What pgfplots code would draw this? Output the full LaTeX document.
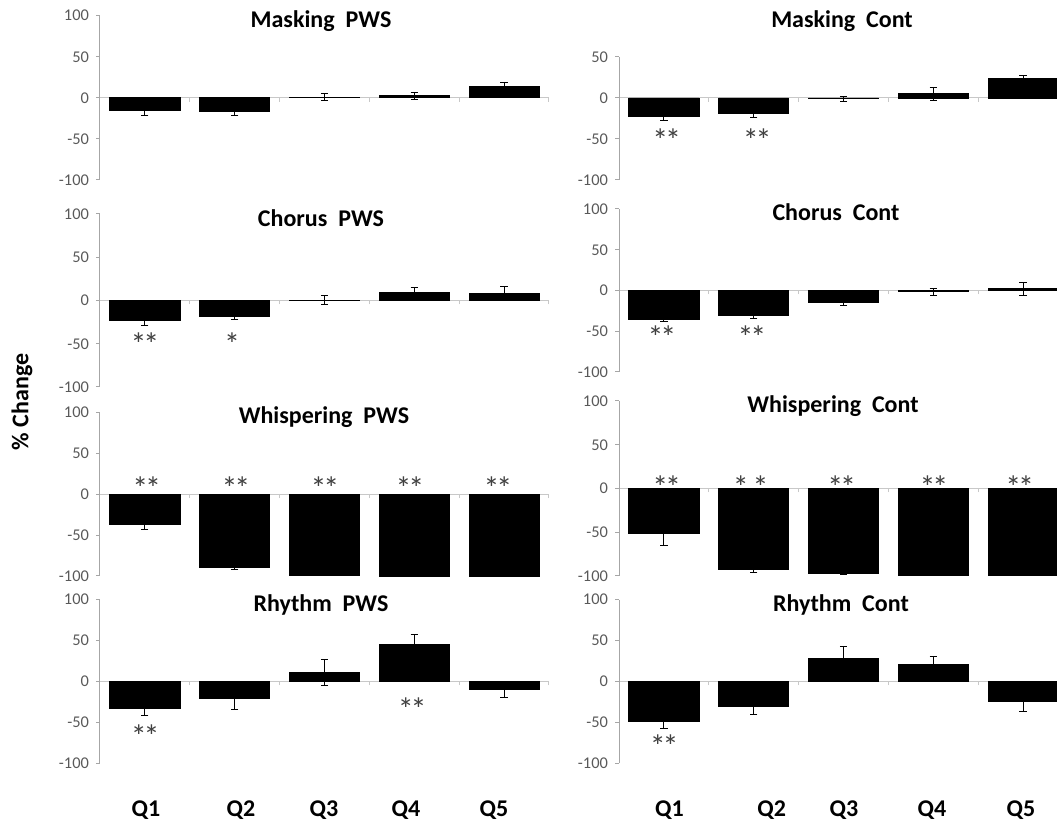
\documentclass[border=0pt]{standalone}
\usepackage{fontspec}
\setmainfont{Carlito}
\usepackage{pgfplots}
\pgfplotsset{compat=1.18}
\definecolor{axgray}{HTML}{A6A6A6}
\definecolor{xaxgray}{HTML}{C8C8C8}
\definecolor{lblgray}{HTML}{595959}
\definecolor{stargray}{HTML}{404040}

\pgfplotsset{
  panel/.style={
    scale only axis, width=224.5pt,
    xmin=-0.5, xmax=4.5, ymin=-100, ymax=100,
    axis x line*=middle, axis y line*=left,
    ytick={-100,-50,0,50,100},
    xtick={-0.5,0.5,...,4.5}, xticklabels={},
    axis line style={axgray, line width=0.5pt},
    x axis line style={xaxgray},
    tick style={axgray, line width=0.5pt},
    xtick style={xaxgray},
    major tick length=2pt, tick align=outside,
    yticklabel style={font=\fontsize{8.2}{9}\selectfont, text=lblgray},
    /pgf/number format/assume math mode=true,
    clip=false,
  },
  bars/.style={ybar, bar width=0.78, fill=black, draw=black, line width=0.4pt,
    error bars/y dir=both, error bars/y explicit,
    error bars/error bar style={black, line width=0.5pt},
    error bars/error mark options={rotate=90, mark size=1.8pt, black, line width=0.5pt}},
}

\pgfplotstableread{
x y e
0 -15 6
1 -16 5
2 1 4
3 2.5 4
4 14 5
}\maskpws
\pgfplotstableread{
x y e
0 -23 5
1 -19 5
2 -1 3
3 5 7.5
4 24 4
}\maskcont
\pgfplotstableread{
x y e
0 -23 6
1 -18 3.5
2 0.5 5
3 9 6.5
4 8 8
}\chorpws
\pgfplotstableread{
x y e
0 -35 3
1 -31 3
2 -14 4
3 -1.5 4.5
4 2 8
}\chorcont
\pgfplotstableread{
x y e
0 -37 6
1 -90 2
2 -99 0.5
3 -100 0
4 -100 0
}\whispws
\pgfplotstableread{
x y e
0 -51 14
1 -93 3.5
2 -97 1.5
3 -99 0
4 -99 0
}\whiscont
\pgfplotstableread{
x y e
0 -33 8
1 -21 13
2 11 16
3 45 12
4 -10 9
}\rhypws
\pgfplotstableread{
x y e
0 -49 8
1 -30 10
2 28 15
3 21 9
4 -24 13
}\rhycont

\newcommand{\dstar}{*\kern-1.6pt*}

\begin{document}
\begin{tikzpicture}
\path[use as bounding box] (0,0) rectangle (528.5pt,412.5pt);
\clip (0,0) rectangle (528.5pt,412.5pt);

% Row 1
\begin{axis}[panel, anchor=south west, at={(50pt,322.5pt)}, height=82.15pt]
\addplot[bars] table[x=x,y=y,y error=e] {\maskpws};
\end{axis}
\begin{axis}[panel, anchor=south west, at={(309.5pt,322.5pt)}, height=61.5pt, ymax=50, ytick={-100,-50,0,50}]
\addplot[bars] table[x=x,y=y,y error=e] {\maskcont};
\end{axis}
% Row 2
\begin{axis}[panel, anchor=south west, at={(50pt,219pt)}, height=86.5pt]
\addplot[bars] table[x=x,y=y,y error=e] {\chorpws};
\end{axis}
\begin{axis}[panel, anchor=south west, at={(309.5pt,226.5pt)}, height=81.5pt]
\addplot[bars] table[x=x,y=y,y error=e] {\chorcont};
\end{axis}
% Row 3
\begin{axis}[panel, anchor=south west, at={(50pt,124.5pt)}, height=81.65pt]
\addplot[bars] table[x=x,y=y,y error=e] {\whispws};
\end{axis}
\begin{axis}[panel, anchor=south west, at={(309.5pt,124.5pt)}, height=87.5pt]
\addplot[bars] table[x=x,y=y,y error=e] {\whiscont};
\end{axis}
% Row 4
\begin{axis}[panel, anchor=south west, at={(50pt,30.85pt)}, height=81.8pt]
\addplot[bars] table[x=x,y=y,y error=e] {\rhypws};
\end{axis}
\begin{axis}[panel, anchor=south west, at={(309.5pt,30.85pt)}, height=81.8pt]
\addplot[bars] table[x=x,y=y,y error=e] {\rhycont};
\end{axis}

% Text overlay in reference pixel coordinates
\begin{scope}[x=0.5pt, y=-0.5pt, yshift=412.5pt]
  \tikzset{ttl/.style={anchor=base, inner sep=0pt, font=\fontsize{12}{14}\selectfont\bfseries},
           st/.style={anchor=base, inner sep=0pt, text=stargray, font=\fontsize{16}{17}\selectfont, yshift=-8.3pt},
           ql/.style={anchor=base, inner sep=0pt, font=\fontsize{12}{14}\selectfont\bfseries}}
  \node[ttl] at (321,27.3) {Masking\ \ PWS};
  \node[ttl] at (842,27.3) {Masking\ \ Cont};
  \node[ttl] at (321,226.7) {Chorus\ \ PWS};
  \node[ttl] at (836,220.7) {Chorus\ \ Cont};
  \node[ttl] at (324,423.3) {Whispering\ \ PWS};
  \node[ttl] at (833,412.7) {Whispering\ \ Cont};
  \node[ttl] at (321,611.7) {Rhythm\ \ PWS};
  \node[ttl] at (841,611.7) {Rhythm\ \ Cont};

  % significance stars
  \node[st] at (666.7,134.7) {\dstar};
  \node[st] at (757.3,134.7) {\dstar};
  \node[st] at (145,339.3) {\dstar};
  \node[st] at (232,339.3) {*};
  \node[st] at (662,332) {\dstar};
  \node[st] at (752,332) {\dstar};
  \node[st] at (146.7,483.3) {\dstar};
  \node[st] at (236,483.3) {\dstar};
  \node[st] at (325,483.3) {\dstar};
  \node[st] at (410,483.3) {\dstar};
  \node[st] at (498,483.3) {\dstar};
  \node[st] at (666.7,481.7) {\dstar};
  \node[st] at (750.7,481.7) {*\kern2pt*};
  \node[st] at (841.7,481.7) {\dstar};
  \node[st] at (934,481.7) {\dstar};
  \node[st] at (1019.7,481.7) {\dstar};
  \node[st] at (145.3,731.2) {\dstar};
  \node[st] at (412.3,703.8) {\dstar};
  \node[st] at (664.3,740.5) {\dstar};

  % category labels
  \node[ql] at (146,816.7) {Q1};
  \node[ql] at (241,816.7) {Q2};
  \node[ql] at (324,816.7) {Q3};
  \node[ql] at (406,816.7) {Q4};
  \node[ql] at (494,816.7) {Q5};
  \node[ql] at (669.5,816.7) {Q1};
  \node[ql] at (771.7,816.7) {Q2};
  \node[ql] at (844,816.7) {Q3};
  \node[ql] at (932,816.7) {Q4};
  \node[ql] at (1021,816.7) {Q5};

  % y label
  \node[rotate=90, anchor=center, inner sep=0pt, font=\fontsize{12}{14}\selectfont\bfseries] at (22,402) {\% Change};
\end{scope}
\end{tikzpicture}
\end{document}
